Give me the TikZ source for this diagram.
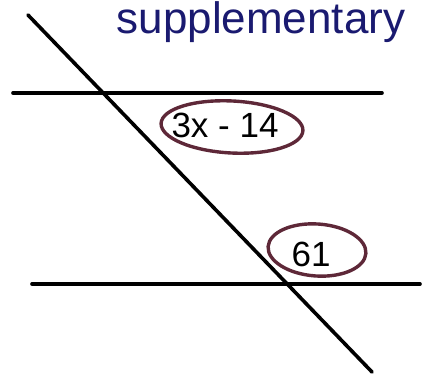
\documentclass[tikz,border=0pt]{standalone}
\usepackage{fontspec}
\setmainfont{Liberation Sans}
\definecolor{ink}{HTML}{1A1A70}
\definecolor{loop}{HTML}{5E2838}
\begin{document}
\begin{tikzpicture}[x=1pt,y=-1pt,
  ln/.style={line width=3.6pt,black,line cap=round},
  ring/.style={draw=loop,line width=3.4pt},
  lbl/.style={font=\fontsize{35}{35}\selectfont,inner sep=0pt}]
\useasboundingbox (0,0) rectangle (422,374);
\coordinate (t1) at (13,93);
\coordinate (t2) at (382,93);
\coordinate (b1) at (32,284);
\coordinate (b2) at (420,284);
\coordinate (s1) at (28,15);
\coordinate (s2) at (372,372);
\draw[ln] (t1) -- (t2);
\draw[ln] (b1) -- (b2);
\draw[ln] (s1) -- (s2);
\draw[ring,rotate around={-3:(232,127)}] (232,127) ellipse [x radius=71, y radius=26];
\draw[ring,rotate around={-4:(317,250)}] (317,250) ellipse [x radius=49, y radius=26];
\node[lbl] (a1) at (225,125) {3x - 14};
\node[lbl] (a2) at (311,254) {61};
\node[anchor=base,inner sep=0pt,text=ink,font=\fontsize{44}{44}\selectfont] (sup) at (261,34) {supplementary};
\end{tikzpicture}
\end{document}
